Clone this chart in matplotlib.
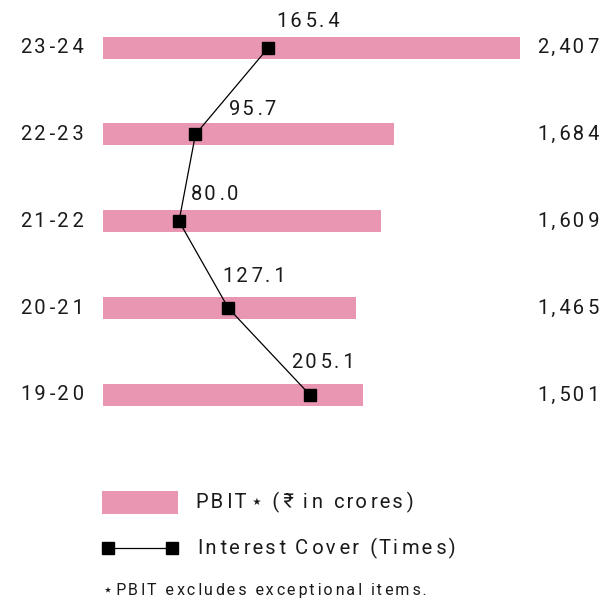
import matplotlib
matplotlib.use("Agg")
import matplotlib.pyplot as plt
from matplotlib.patches import Rectangle
from matplotlib.lines import Line2D

plt.rcParams['font.family'] = ['Roboto', 'DejaVu Sans']

# data
years = ['19-20', '20-21', '21-22', '22-23', '23-24']
pbit = [1501, 1465, 1609, 1684, 2407]
pbit_labels = ['1,501', '1,465', '1,609', '1,684', '2,407']
cover = [205.1, 127.1, 80.0, 95.7, 165.4]
cover_labels = ['205.1', '127.1', '80.0', '95.7', '165.4']

# label offsets (pixels) for the interest cover numbers
cover_dx = [13, 26, 36, 57, 40]
cover_dy = [32, 32, 27, 25, 26]

PINK = '#e996b2'
INK = '#1a1a1a'
FS = 14.5


def track(s, frac=0.38):
    """ 模拟字间距: hair space 和 thin space 混用 """
    out = s[0]
    acc = 0.0
    for c in s[1:]:
        acc += frac
        if acc >= 0.5:
            out += '\u2009'
            acc -= 1.0
        else:
            out += '\u200a'
        out += c
    return out


W, H = 605, 602
fig = plt.figure(figsize=(W / 100, H / 100), dpi=100)

left, right = 102.7, 519.6
top_px, bot_px = 4.1, 438.4
ax = fig.add_axes([left / W, 1 - bot_px / H, (right - left) / W, (bot_px - top_px) / H])
ypos = list(range(len(years)))
ax.barh(ypos, pbit, height=0.253, color=PINK)
ax.set_xlim(0, 2407)
ax.set_ylim(-0.5, 4.5)
ax.axis('off')

ax2 = ax.twiny()
ax2.set_xlim(7.1, 405.3)
ax2.set_ylim(-0.5, 4.5)
ax2.axis('off')
ax2.plot(cover, ypos, color='black', lw=0.9, marker='s', ms=8.6)
for i in range(len(cover)):
    ax2.annotate(track(cover_labels[i]), (cover[i], ypos[i]),
                 xytext=(cover_dx[i] * 0.72, cover_dy[i] * 0.72), textcoords='offset points',
                 ha='center', va='center', fontsize=FS, color=INK)

# category and value labels
for i in range(len(years)):
    ax.annotate(track(years[i]), (0, ypos[i]), xytext=(-18.5 * 0.72, 0), textcoords='offset points',
                ha='right', va='center', fontsize=FS, color=INK)
    ax.annotate(track(pbit_labels[i]), (2407, ypos[i]), xytext=(18 * 0.72, 0), textcoords='offset points',
                ha='left', va='center', fontsize=FS, color=INK)

# legend, drawn in pixel space
lg = fig.add_axes([0, 0, 1, 1])
lg.set_xlim(0, W)
lg.set_ylim(H, 0)
lg.axis('off')
lg.add_patch(Rectangle((101.7, 490.7), 76, 23.3, color=PINK, lw=0))
lg.text(196, 502, track('PBIT⋆ (₹ in crores)'),
        fontsize=FS, color=INK, va='center', ha='left')
lg.add_line(Line2D([108, 172], [547.7, 547.7], color='black', lw=0.9, marker='s', ms=8.6))
lg.text(198, 548, track('Interest Cover (Times)'), fontsize=FS, color=INK, va='center', ha='left')
lg.text(103, 590, track('⋆PBIT excludes exceptional items.', 0.5), fontsize=11.5, color=INK,
        va='center', ha='left')

fig.savefig('out.png', dpi=100)
